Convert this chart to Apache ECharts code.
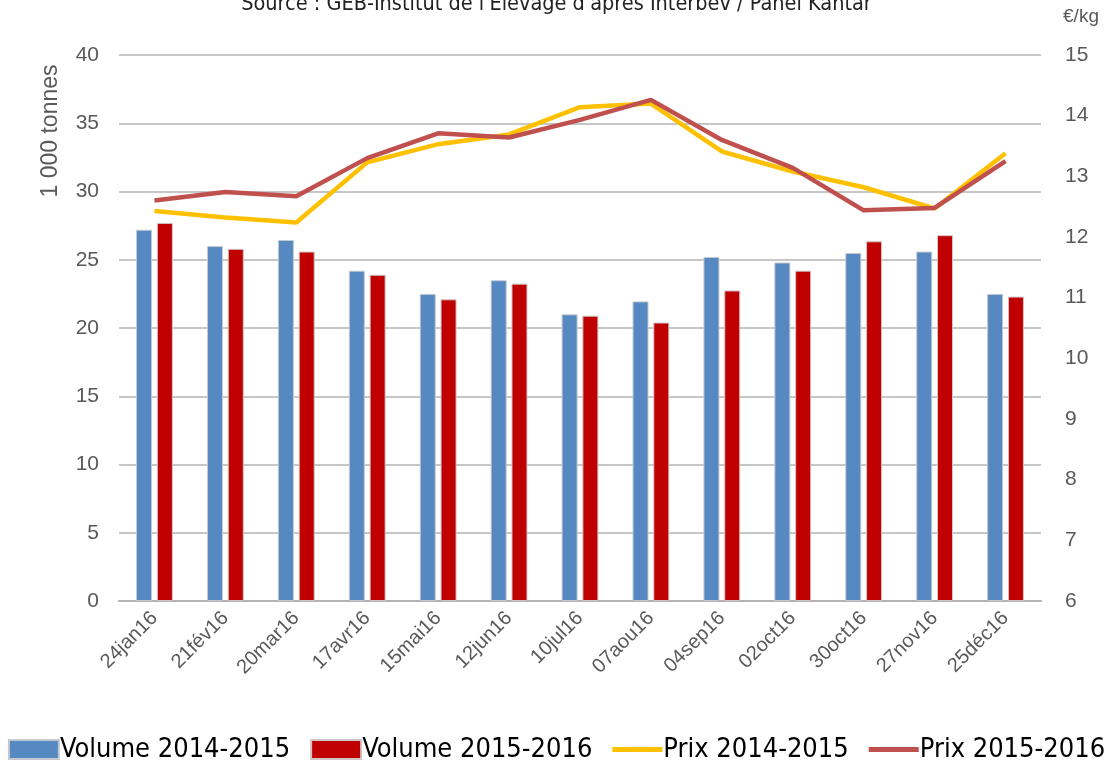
<!DOCTYPE html>
<html>
<head>
<meta charset="utf-8">
<script src="https://cdn.jsdelivr.net/npm/echarts@6/dist/echarts.min.js"></script>
<style>
  html, body { margin: 0; padding: 0; background: #fff; }
  #main { width: 1113px; height: 762px; }
</style>
</head>
<body>
<div id="main"></div>
<script>
var categories = ["24jan16", "21fév16", "20mar16", "17avr16", "15mai16", "12jun16", "10jul16",
  "07aou16", "04sep16", "02oct16", "30oct16", "27nov16", "25déc16"];
var volume1415 = [27.2, 26.0, 26.45, 24.2, 22.5, 23.5, 21.0, 21.95, 25.2, 24.8, 25.5, 25.6, 22.5]; // 1 000 tonnes
var volume1516 = [27.7, 25.8, 25.6, 23.9, 22.1, 23.25, 20.9, 20.4, 22.75, 24.2, 26.35, 26.8, 22.3];
var prix1415 = [12.43, 12.32, 12.24, 13.23, 13.53, 13.69, 14.14, 14.2, 13.41, 13.08, 12.82, 12.47, 13.38]; // €/kg
var prix1516 = [12.6, 12.74, 12.67, 13.3, 13.71, 13.64, 13.93, 14.26, 13.6, 13.14, 12.44, 12.48, 13.25];

var grey = "#595959";
var gridColor = "#b3b3b3";
var narrow = "'DejaVu Sans Condensed', 'Liberation Sans', sans-serif";
var lineIcon = "path://M0,0H50V5H0Z";

var myChart = echarts.init(document.getElementById("main"));
var option = {
  backgroundColor: "#fff",
  animation: false,
  title: {
    text: "Source : GEB-Institut de l'Elevage d'après Interbev / Panel Kantar",
    left: "center",
    top: -12,
    textStyle: { fontFamily: narrow, fontSize: 21.5, fontWeight: "normal", color: "#222" }
  },
  graphic: [
    {
      type: "text",
      x: 51, y: 131,
      rotation: Math.PI / 2,
      style: { text: "1 000 tonnes", font: "23px 'Liberation Sans'", fill: grey, align: "center", verticalAlign: "middle" }
    },
    {
      type: "text",
      x: 1081, y: 17,
      style: { text: "€/kg", font: "19px 'Liberation Sans'", fill: grey, align: "center", verticalAlign: "middle" }
    }
  ],
  grid: { left: 119, right: 72, top: 55, bottom: 161, containLabel: false, outerBoundsMode: "none" },
  legend: {
    top: 731,
    left: "center",
    itemWidth: 50,
    itemHeight: 19,
    itemGap: 20,
    symbolKeepAspect: true,
    textStyle: { fontFamily: narrow, fontSize: 27, color: "#000", padding: [0, 0, 0, -4] },
    data: [
      { name: "Volume 2014-2015", icon: "rect" },
      { name: "Volume 2015-2016", icon: "rect" },
      { name: "Prix 2014-2015", icon: lineIcon },
      { name: "Prix 2015-2016", icon: lineIcon }
    ]
  },
  xAxis: {
    type: "category",
    data: categories,
    axisLine: { lineStyle: { color: gridColor, width: 2 } },
    axisTick: { show: false },
    axisLabel: { rotate: 45, margin: 14, color: grey, fontFamily: "Liberation Sans", fontSize: 20, interval: 0 }
  },
  yAxis: [
    {
      type: "value",
      min: 0, max: 40, interval: 5,
      axisLine: { show: false },
      axisTick: { show: false },
      splitLine: { lineStyle: { color: gridColor, width: 1.5 } },
      axisLabel: { margin: 20, color: grey, fontFamily: "Liberation Sans", fontSize: 21 }
    },
    {
      type: "value",
      min: 6, max: 15, interval: 1,
      axisLine: { show: false },
      axisTick: { show: false },
      splitLine: { show: false },
      axisLabel: { margin: 24, color: grey, fontFamily: "Liberation Sans", fontSize: 21 }
    }
  ],
  series: [
    {
      name: "Volume 2014-2015",
      type: "bar",
      barWidth: 16,
      barGap: "30%",
      itemStyle: { color: "#5689c1", borderColor: "#c4c9d0", borderWidth: 1 },
      data: volume1415
    },
    {
      name: "Volume 2015-2016",
      type: "bar",
      barWidth: 16,
      itemStyle: { color: "#c00000", borderColor: "#d0c4c4", borderWidth: 1 },
      data: volume1516
    },
    {
      name: "Prix 2014-2015",
      type: "line",
      yAxisIndex: 1,
      symbol: "none",
      lineStyle: { color: "#ffc000", width: 4.5 },
      itemStyle: { color: "#ffc000" },
      data: prix1415
    },
    {
      name: "Prix 2015-2016",
      type: "line",
      yAxisIndex: 1,
      symbol: "none",
      lineStyle: { color: "#c0504d", width: 4.5 },
      itemStyle: { color: "#c0504d" },
      data: prix1516
    }
  ]
};
myChart.setOption(option);
</script>
</body>
</html>
